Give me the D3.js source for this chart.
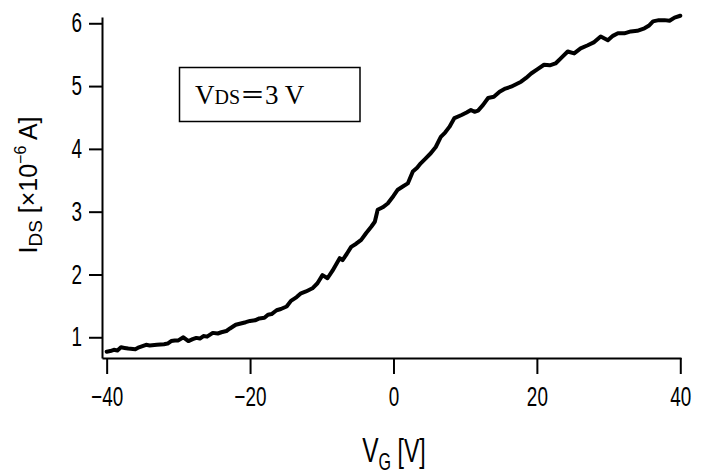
<!DOCTYPE html>
<html>
<head>
<meta charset="utf-8">
<script src="https://cdn.jsdelivr.net/npm/d3@7"></script>
<style>
  body { margin: 0; background: #fff; }
  .tick text { font-family: "Liberation Sans", Arial, sans-serif; font-size: 27px; fill: #000; }
  .axis path, .axis line { stroke: #000; stroke-width: 2px; }
</style>
</head>
<body>
<div id="chart"></div>
<script>
// gate voltage [V]
var vg = [-40, -39.5, -39, -38.5, -38, -37.5, -37, -36, -35.5, -35, -34.5, -34, -33, -32, -31.5, -31, -30.5, -30,
  -29.3, -28.6, -28, -27.5, -27, -26.5, -26, -25.2, -24.5, -24, -23.3, -22.8, -22, -21.3, -20.6, -20,
  -19.3, -18.7, -18, -17.5, -17, -16.3, -15.7, -14.9, -14.3, -13.5, -12.9, -12.2, -11.3, -10.6, -9.9,
  -9.2, -8.5, -7.5, -7.1, -6.5, -5.9, -5.2, -4.5, -3.8, -3.1, -2.6, -2.2, -1.5, -0.8, 0, 0.6, 1.3, 2.0,
  2.7, 3.3, 3.8, 4.5, 5.2, 5.9, 6.6, 7.2, 7.8, 8.5, 9.5, 10.2, 10.8, 11.3, 11.8, 12.5, 13.2, 14.0, 14.8,
  15.6, 16.4, 17.1, 17.8, 18.5, 19.2, 20.1, 21.0, 21.8, 22.6, 23.4, 24.3, 25.2, 26.1, 27.1, 28.0, 28.9,
  29.9, 30.6, 31.3, 32.2, 33.1, 34.0, 35.0, 35.6, 36.2, 37.0, 37.8, 38.5, 39.2, 40];
// drain current [x1e-6 A]
var ids = [0.77, 0.78, 0.80, 0.79, 0.84, 0.83, 0.82, 0.81, 0.84, 0.86, 0.88, 0.87, 0.88, 0.89, 0.90, 0.94, 0.95, 0.95,
  1.00, 0.94, 0.97, 0.99, 0.98, 1.02, 1.01, 1.07, 1.06, 1.08, 1.10, 1.14, 1.20, 1.22, 1.24, 1.26,
  1.27, 1.30, 1.31, 1.36, 1.37, 1.43, 1.45, 1.49, 1.58, 1.64, 1.70, 1.73, 1.78, 1.86, 1.99,
  1.94, 2.06, 2.26, 2.23, 2.33, 2.44, 2.49, 2.55, 2.66, 2.76, 2.84, 3.03, 3.07, 3.13, 3.25, 3.35, 3.40, 3.45,
  3.64, 3.70, 3.77, 3.85, 3.93, 4.03, 4.19, 4.26, 4.35, 4.49, 4.54, 4.58, 4.62, 4.59, 4.61, 4.70, 4.81, 4.83, 4.91,
  4.96, 4.99, 5.03, 5.07, 5.13, 5.20, 5.27, 5.34, 5.33, 5.36, 5.45, 5.55, 5.52, 5.60, 5.65, 5.70, 5.79,
  5.73, 5.80, 5.84, 5.84, 5.87, 5.88, 5.92, 5.96, 6.03, 6.05, 6.05, 6.04, 6.09, 6.12];
var xTicks = [-40, -20, 0, 20, 40];
var yTicks = [1, 2, 3, 4, 5, 6];

var width = 701, height = 470;
var narrow = 0.7; // condensed look of the tick font

var svg = d3.select("#chart").append("svg")
  .attr("width", width)
  .attr("height", height);

var x = d3.scaleLinear().domain([-40.65, 40.1]).range([102, 681]);
var y = d3.scaleLinear().domain([0.67, 6.1]).range([358, 17]);

// axes
var xAxis = svg.append("g")
  .attr("class", "axis")
  .attr("transform", "translate(0,358)")
  .call(d3.axisBottom(x).tickValues(xTicks).tickSize(16).tickSizeOuter(0).tickPadding(13)
    .tickFormat(function(d){ return d < 0 ? "\u2212" + Math.abs(d) : d; }));
xAxis.selectAll(".tick text")
  .attr("transform", "scale(" + narrow + ",1)");

var yAxis = svg.append("g")
  .attr("class", "axis")
  .attr("transform", "translate(102,0)")
  .call(d3.axisLeft(y).tickValues(yTicks).tickSize(13).tickSizeOuter(0).tickPadding(7)
    .tickFormat(d3.format("d")));
yAxis.selectAll(".tick text")
  .attr("x", 0)
  .attr("transform", "translate(-20,0) scale(" + narrow + ",1)");

// curve
var line = d3.line()
  .x(function(d, i){ return x(vg[i]); })
  .y(function(d){ return y(d); });

svg.append("path")
  .datum(ids)
  .attr("d", line)
  .attr("fill", "none")
  .attr("stroke", "#000")
  .attr("stroke-width", 4)
  .attr("stroke-linejoin", "round")
  .attr("stroke-linecap", "round");

// annotation box
svg.append("rect")
  .attr("x", 179.5)
  .attr("y", 67.5)
  .attr("width", 180.5)
  .attr("height", 54)
  .attr("fill", "#fff")
  .attr("stroke", "#000")
  .attr("stroke-width", 1.5);

var note = svg.append("text")
  .attr("x", 195)
  .attr("y", 104)
  .attr("font-family", "'Liberation Serif', 'DejaVu Serif', serif")
  .attr("font-size", 27);
note.append("tspan").text("V");
note.append("tspan").attr("font-size", 20).text("DS");
note.append("tspan").attr("font-size", 25).attr("font-family", "'Noto Sans CJK JP', sans-serif").text("\uFF1D");
note.append("tspan").text("3 V");

// axis titles
var xTitle = svg.append("text")
  .attr("transform", "translate(394,462) scale(" + narrow + ",1)")
  .attr("text-anchor", "middle")
  .attr("font-family", "'Liberation Sans', Arial, sans-serif")
  .attr("font-size", 35);
xTitle.append("tspan").text("V");
xTitle.append("tspan").attr("font-size", 23).attr("dy", 8).text("G");
xTitle.append("tspan").attr("dy", -8).attr("font-size", 33).text(" [V]");

var yTitle = svg.append("text")
  .attr("transform", "translate(37,185) rotate(-90)")
  .attr("text-anchor", "middle")
  .attr("font-family", "'Liberation Sans', Arial, sans-serif")
  .attr("font-size", 25);
yTitle.append("tspan").text("I");
yTitle.append("tspan").attr("font-size", 19).attr("dy", 5).text("DS");
yTitle.append("tspan").attr("dy", -5).text(" [\u00D710");
yTitle.append("tspan").attr("font-size", 16).attr("dy", -11).text("\u22126");
yTitle.append("tspan").attr("dy", 11).text(" A]");
</script>
</body>
</html>
